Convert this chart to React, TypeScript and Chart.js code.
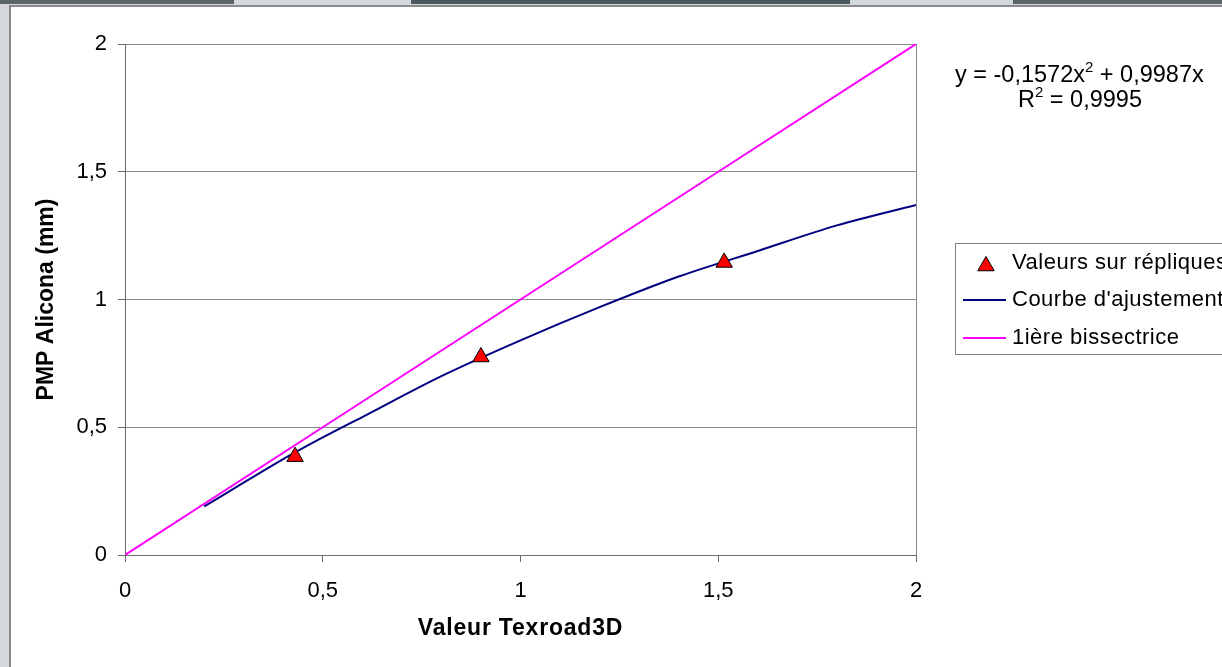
import React, { useEffect, useRef } from "react";
import { Chart, registerables } from "chart.js";

Chart.register(...registerables);

// ---- data ----
const replicaX = [0.43, 0.9, 1.515];
const replicaY = [0.385, 0.775, 1.145];

const fitX = [0.2, 0.4, 0.5, 0.6, 0.8, 1.0, 1.2, 1.4, 1.6, 1.8, 2.0];
const fitY = [0.19, 0.375, 0.46, 0.54, 0.7, 0.84, 0.97, 1.09, 1.19, 1.29, 1.37];

const bisX = [0, 0.5, 1, 1.5, 2];
const bisY = [0, 0.5, 1, 1.5, 2];

const legendLabels = ["Valeurs sur répliques", "Courbe d'ajustement", "1ière bissectrice"];
const xTitle = "Valeur Texroad3D";
const yTitle = "PMP Alicona (mm)";
const eqMain = ["y = -0,1572x", "2", " + 0,9987x"];
const eqR2 = ["R", "2", " = 0,9995"];

const FONT = "'Liberation Sans', Arial, sans-serif";
const NAVY = "#000080";
const MAGENTA = "#FF00FF";
const GRID = "#8a8a8a";
const AXIS = "#6a6a6a";

const fmt = (v: number) => String(v).replace(".", ",");

const decorPlugin = {
  id: "decor",
  afterDraw(chart: any) {
    const ctx = chart.ctx as any;
    const ca = chart.chartArea;
    ctx.save();
    // right border of plot area
    ctx.strokeStyle = GRID;
    ctx.lineWidth = 1;
    ctx.beginPath();
    ctx.moveTo(Math.round(ca.right) + 0.5, ca.top);
    ctx.lineTo(Math.round(ca.right) + 0.5, ca.bottom);
    ctx.stroke();

    // axis titles
    ctx.fillStyle = "#000";
    ctx.font = `bold 23px ${FONT}`;
    ctx.textAlign = "center";
    ctx.textBaseline = "middle";
    ctx.letterSpacing = "0.8px";
    ctx.fillText(xTitle, (ca.left + ca.right) / 2, 629);
    ctx.letterSpacing = "0px";
    ctx.save();
    ctx.translate(47, (ca.top + ca.bottom) / 2);
    ctx.rotate(-Math.PI / 2);
    ctx.fillText(yTitle, 0, 0);
    ctx.restore();

    // equation
    const drawSup = (parts: string[], x: number, baseline: number) => {
      let cx = x;
      ctx.textAlign = "left";
      ctx.textBaseline = "alphabetic";
      parts.forEach((p, i) => {
        if (i === 1) {
          ctx.font = `15px ${FONT}`;
          ctx.fillText(p, cx, baseline - 10);
          cx += ctx.measureText(p).width;
        } else {
          ctx.font = `23.5px ${FONT}`;
          ctx.fillText(p, cx, baseline);
          cx += ctx.measureText(p).width;
        }
      });
    };
    drawSup(eqMain, 955, 82);
    drawSup(eqR2, 1018, 107);

    // legend
    ctx.strokeStyle = "#808080";
    ctx.lineWidth = 1;
    ctx.strokeRect(955.5, 243.5, 400, 111);
    const rows = [263, 300, 338];
    // triangle marker
    const r = 9.5;
    const cx = 986;
    const cy = rows[0] + 3;
    ctx.beginPath();
    ctx.moveTo(cx, cy - r);
    ctx.lineTo(cx + r * 0.866, cy + r / 2);
    ctx.lineTo(cx - r * 0.866, cy + r / 2);
    ctx.closePath();
    ctx.fillStyle = "#FF0000";
    ctx.fill();
    ctx.strokeStyle = "#000";
    ctx.stroke();
    // line samples
    [NAVY, MAGENTA].forEach((c, i) => {
      ctx.strokeStyle = c;
      ctx.lineWidth = 2;
      ctx.beginPath();
      ctx.moveTo(963, rows[i + 1]);
      ctx.lineTo(1006, rows[i + 1]);
      ctx.stroke();
    });
    ctx.fillStyle = "#000";
    ctx.font = `22px ${FONT}`;
    ctx.letterSpacing = "0.5px";
    ctx.textAlign = "left";
    ctx.textBaseline = "middle";
    legendLabels.forEach((t, i) => ctx.fillText(t, 1012, rows[i]));
    ctx.letterSpacing = "0px";
    ctx.restore();
  },
};

export default function App() {
  const ref = useRef<HTMLCanvasElement | null>(null);

  useEffect(() => {
    if (!ref.current) return;
    const chart = new Chart(ref.current, {
      type: "scatter",
      data: {
        datasets: [
          {
            label: legendLabels[0],
            data: replicaX.map((x, i) => ({ x, y: replicaY[i] })),
            showLine: false,
            pointStyle: "triangle",
            pointRadius: 9.5,
            backgroundColor: "#FF0000",
            borderColor: "#000",
            borderWidth: 1,
          },
          {
            label: legendLabels[1],
            data: fitX.map((x, i) => ({ x, y: fitY[i] })),
            showLine: true,
            pointRadius: 0,
            borderColor: NAVY,
            borderWidth: 2,
            tension: 0.3,
          },
          {
            label: legendLabels[2],
            data: bisX.map((x, i) => ({ x, y: bisY[i] })),
            showLine: true,
            pointRadius: 0,
            borderColor: MAGENTA,
            borderWidth: 2,
          },
        ],
      },
      options: {
        animation: false,
        responsive: false,
        devicePixelRatio: 1,
        layout: { padding: { left: 0, top: 44, right: 1300 - 916, bottom: 0 } },
        plugins: { legend: { display: false }, tooltip: { enabled: false } },
        scales: {
          x: {
            type: "linear",
            min: 0,
            max: 2,
            afterFit: (s: any) => {
              s.height = 112;
            },
            ticks: {
              stepSize: 0.5,
              padding: 16,
              color: "#000",
              font: { family: FONT, size: 22 },
              callback: (v: any) => fmt(v),
            },
            grid: {
              drawOnChartArea: false,
              drawTicks: true,
              tickLength: 7,
              tickColor: AXIS,
            },
            border: { color: AXIS, width: 1 },
          },
          y: {
            type: "linear",
            min: 0,
            max: 2,
            afterFit: (s: any) => {
              s.width = 125;
            },
            ticks: {
              stepSize: 0.5,
              padding: 11,
              color: "#000",
              font: { family: FONT, size: 22 },
              callback: (v: any) => fmt(v),
            },
            grid: {
              color: GRID,
              drawTicks: true,
              tickLength: 7,
              tickColor: AXIS,
            },
            border: { color: AXIS, width: 1 },
          },
        },
      },
      plugins: [decorPlugin],
    });
    return () => chart.destroy();
  }, []);

  return (
    <div
      style={{
        position: "fixed",
        left: 0,
        top: 0,
        width: 1222,
        height: 667,
        overflow: "hidden",
        background: "#d4d8db",
      }}
    >
      <div style={{ position: "absolute", left: 0, top: 0, width: 234, height: 4, background: "#5b6466" }} />
      <div style={{ position: "absolute", left: 411, top: 0, width: 439, height: 4, background: "#4d5a5d" }} />
      <div style={{ position: "absolute", left: 1013, top: 0, width: 209, height: 4, background: "#5b6466" }} />
      <div
        style={{
          position: "absolute",
          left: 9,
          top: 5,
          right: -10,
          bottom: -10,
          background: "#fff",
          borderLeft: "2px solid #8a8a8a",
          borderTop: "2px solid #8a8a8a",
        }}
      />
      <canvas
        ref={ref}
        width={1300}
        height={667}
        style={{ position: "absolute", left: 0, top: 0, width: 1300, height: 667 }}
      />
    </div>
  );
}
